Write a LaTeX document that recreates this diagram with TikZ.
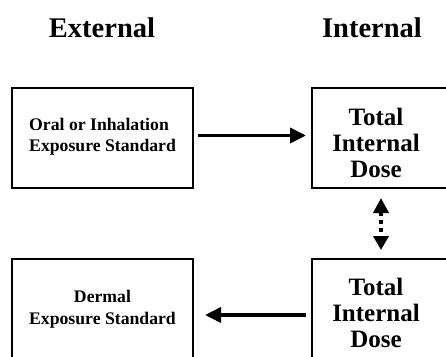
\documentclass[tikz,border=0pt]{standalone}
\usepackage{fontspec}
\setmainfont{Liberation Serif}
\usetikzlibrary{arrows.meta}

\begin{document}
\begin{tikzpicture}[x=1pt,y=-1pt,
  box/.style={draw,line width=1.6pt,minimum width=181pt,minimum height=100pt,inner sep=0pt},
  head/.style={font=\bfseries\fontsize{28.5}{30}\selectfont},
  conn/.style={line width=3.6pt,-{Triangle[length=16pt,width=15pt]}}]
\useasboundingbox (0,0) rectangle (446,356);
% headings
\node[head] (ext) at (102,28) {External};
\node[head] (int) at (372,28) {Internal};
% boxes
\node[box] (oral) at (102.5,138) {};
\node[box,minimum width=150pt] (dose1) at (387,138) {};
\node[box] (derm) at (102.5,309) {};
\node[box,minimum width=150pt] (dose2) at (387,309) {};
% texts
\node[align=left,inner sep=0pt,anchor=west,font=\bfseries\fontsize{17.7}{21}\selectfont] (t1) at (29,137) {Oral or Inhalation\\Exposure Standard};
\node[align=center,font=\bfseries\fontsize{17.7}{21.5}\selectfont] (t2) at (102.5,309) {Dermal\\Exposure Standard};
\node[align=center,font=\bfseries\fontsize{25}{26}\selectfont] (t3) at (376,143) {Total\\Internal\\Dose};
\node[align=center,font=\bfseries\fontsize{25}{26}\selectfont] (t4) at (376,313) {Total\\Internal\\Dose};
% arrows
\coordinate (a1) at (198,135.5);
\coordinate (a2) at (306,315);
\draw[conn] (a1) -- (a1 -| 306,0);
\draw[conn] (a2) -- (a2 -| 205,0);
\coordinate (d1) at (381,198);
\coordinate (d2) at (381,250);
\draw[line width=4pt,dash pattern=on 4pt off 4pt,{Triangle[length=15pt,width=15pt]}-{Triangle[length=14pt,width=15pt]}] (d1) -- (d2);
\end{tikzpicture}
\end{document}
